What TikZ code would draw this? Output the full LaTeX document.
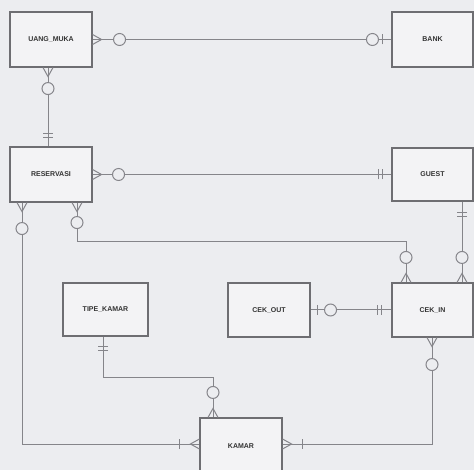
\documentclass[tikz,border=0pt]{standalone}
\usepackage{fontspec}
\setmainfont{Liberation Sans}
\definecolor{bgc}{HTML}{ECEDF0}
\definecolor{boxc}{HTML}{F3F3F5}
\definecolor{edgec}{HTML}{6E6E72}
\definecolor{linec}{HTML}{85858A}
\tikzset{
  ent/.style={draw=edgec, fill=boxc, line width=1.1pt, minimum width=82pt, minimum height=55pt, inner sep=0pt,
    font=\fontsize{7}{8}\selectfont\bfseries, text=black!80},
  ln/.style={draw=linec, line width=1pt},
}
\newcommand\crowf[2]{\draw[ln,shift={#1},rotate=#2] (0,-5)--(9,0)--(0,5);}
\newcommand\onebar[3]{\draw[ln,shift={#1},rotate=#2] (#3,-5)--(#3,5);}
\newcommand\ringm[3]{\draw[ln,fill=bgc,shift={#1},rotate=#2] (#3,0) circle (6);}
\begin{document}
\begin{tikzpicture}[x=1pt,y=-1pt]
\fill[bgc] (0,0) rectangle (474,470);
\useasboundingbox (0,0) rectangle (474,470);
% entities
\node[ent] (um) at (51,39.5) {UANG\_MUKA};
\node[ent, minimum width=81pt] (bank) at (432.5,39.5) {BANK};
\node[ent] (res) at (51,174.5) {RESERVASI};
\node[ent, minimum width=81pt, minimum height=53pt] (guest) at (432.5,174.5) {GUEST};
\node[ent, minimum width=85pt, minimum height=53pt] (tipe) at (105.5,309.5) {TIPE\_KAMAR};
\node[ent, minimum height=54pt] (cout) at (269,310) {CEK\_OUT};
\node[ent, minimum width=81pt, minimum height=54pt] (cin) at (432.5,310) {CEK\_IN};
\node[ent, minimum height=56pt] (kam) at (241,446) {KAMAR};
% anchor coordinates
\coordinate (umB) at (um.south -| 48,0);
\coordinate (resT) at (res.north -| 48,0);
\coordinate (resB1) at (res.south -| 22,0);
\coordinate (resB2) at (res.south -| 77,0);
\coordinate (guestB) at (guest.south -| 462,0);
\coordinate (cinT1) at (cin.north -| 406,0);
\coordinate (cinT2) at (cin.north -| 462,0);
\coordinate (cinB) at (cin.south -| 432,0);
\coordinate (tipeB) at (tipe.south -| 103,0);
\coordinate (kamT) at (kam.north -| 213,0);
\coordinate (kamW) at (kam.west |- 0,444);
\coordinate (kamE) at (kam.east |- 0,444);
% connectors
\draw[ln] (um.east) -- (bank.west);
\draw[ln] (umB) -- (resT);
\draw[ln] (res.east) -- (guest.west);
\draw[ln] (resB1) |- (kamW);
\draw[ln] (resB2) -- (77,242) -| (cinT1);
\draw[ln] (guestB) -- (cinT2);
\draw[ln] (cout.east) -- (cin.west);
\draw[ln] (tipeB) -- (103,377) -| (kamT);
\draw[ln] (cinB) |- (kamE);
% UANG_MUKA - BANK
\crowf{(um.east)}{0}
\ringm{(um.east)}{0}{27}
\ringm{(bank.west)}{180}{19}
\onebar{(bank.west)}{180}{9}
% UANG_MUKA - RESERVASI
\crowf{(umB)}{-90}
\ringm{(umB)}{-90}{21}
\onebar{(resT)}{90}{9}
\onebar{(resT)}{90}{13}
% RESERVASI - GUEST
\crowf{(res.east)}{0}
\ringm{(res.east)}{0}{26}
\onebar{(guest.west)}{180}{9}
\onebar{(guest.west)}{180}{13}
% RESERVASI - KAMAR
\crowf{(resB1)}{-90}
\ringm{(resB1)}{-90}{26}
\crowf{(kamW)}{180}
\onebar{(kamW)}{180}{20}
% RESERVASI - CEK_IN
\crowf{(resB2)}{-90}
\ringm{(resB2)}{-90}{20}
\crowf{(cinT1)}{90}
\ringm{(cinT1)}{90}{25}
% GUEST - CEK_IN
\onebar{(guestB)}{-90}{11}
\onebar{(guestB)}{-90}{15}
\crowf{(cinT2)}{90}
\ringm{(cinT2)}{90}{25}
% CEK_OUT - CEK_IN
\onebar{(cout.east)}{0}{7}
\ringm{(cout.east)}{0}{20}
\onebar{(cin.west)}{180}{10}
\onebar{(cin.west)}{180}{14}
% TIPE_KAMAR - KAMAR
\onebar{(tipeB)}{-90}{10}
\onebar{(tipeB)}{-90}{14}
\crowf{(kamT)}{90}
\ringm{(kamT)}{90}{25}
% CEK_IN - KAMAR
\crowf{(cinB)}{-90}
\ringm{(cinB)}{-90}{27}
\crowf{(kamE)}{0}
\onebar{(kamE)}{0}{20}
\end{tikzpicture}
\end{document}
